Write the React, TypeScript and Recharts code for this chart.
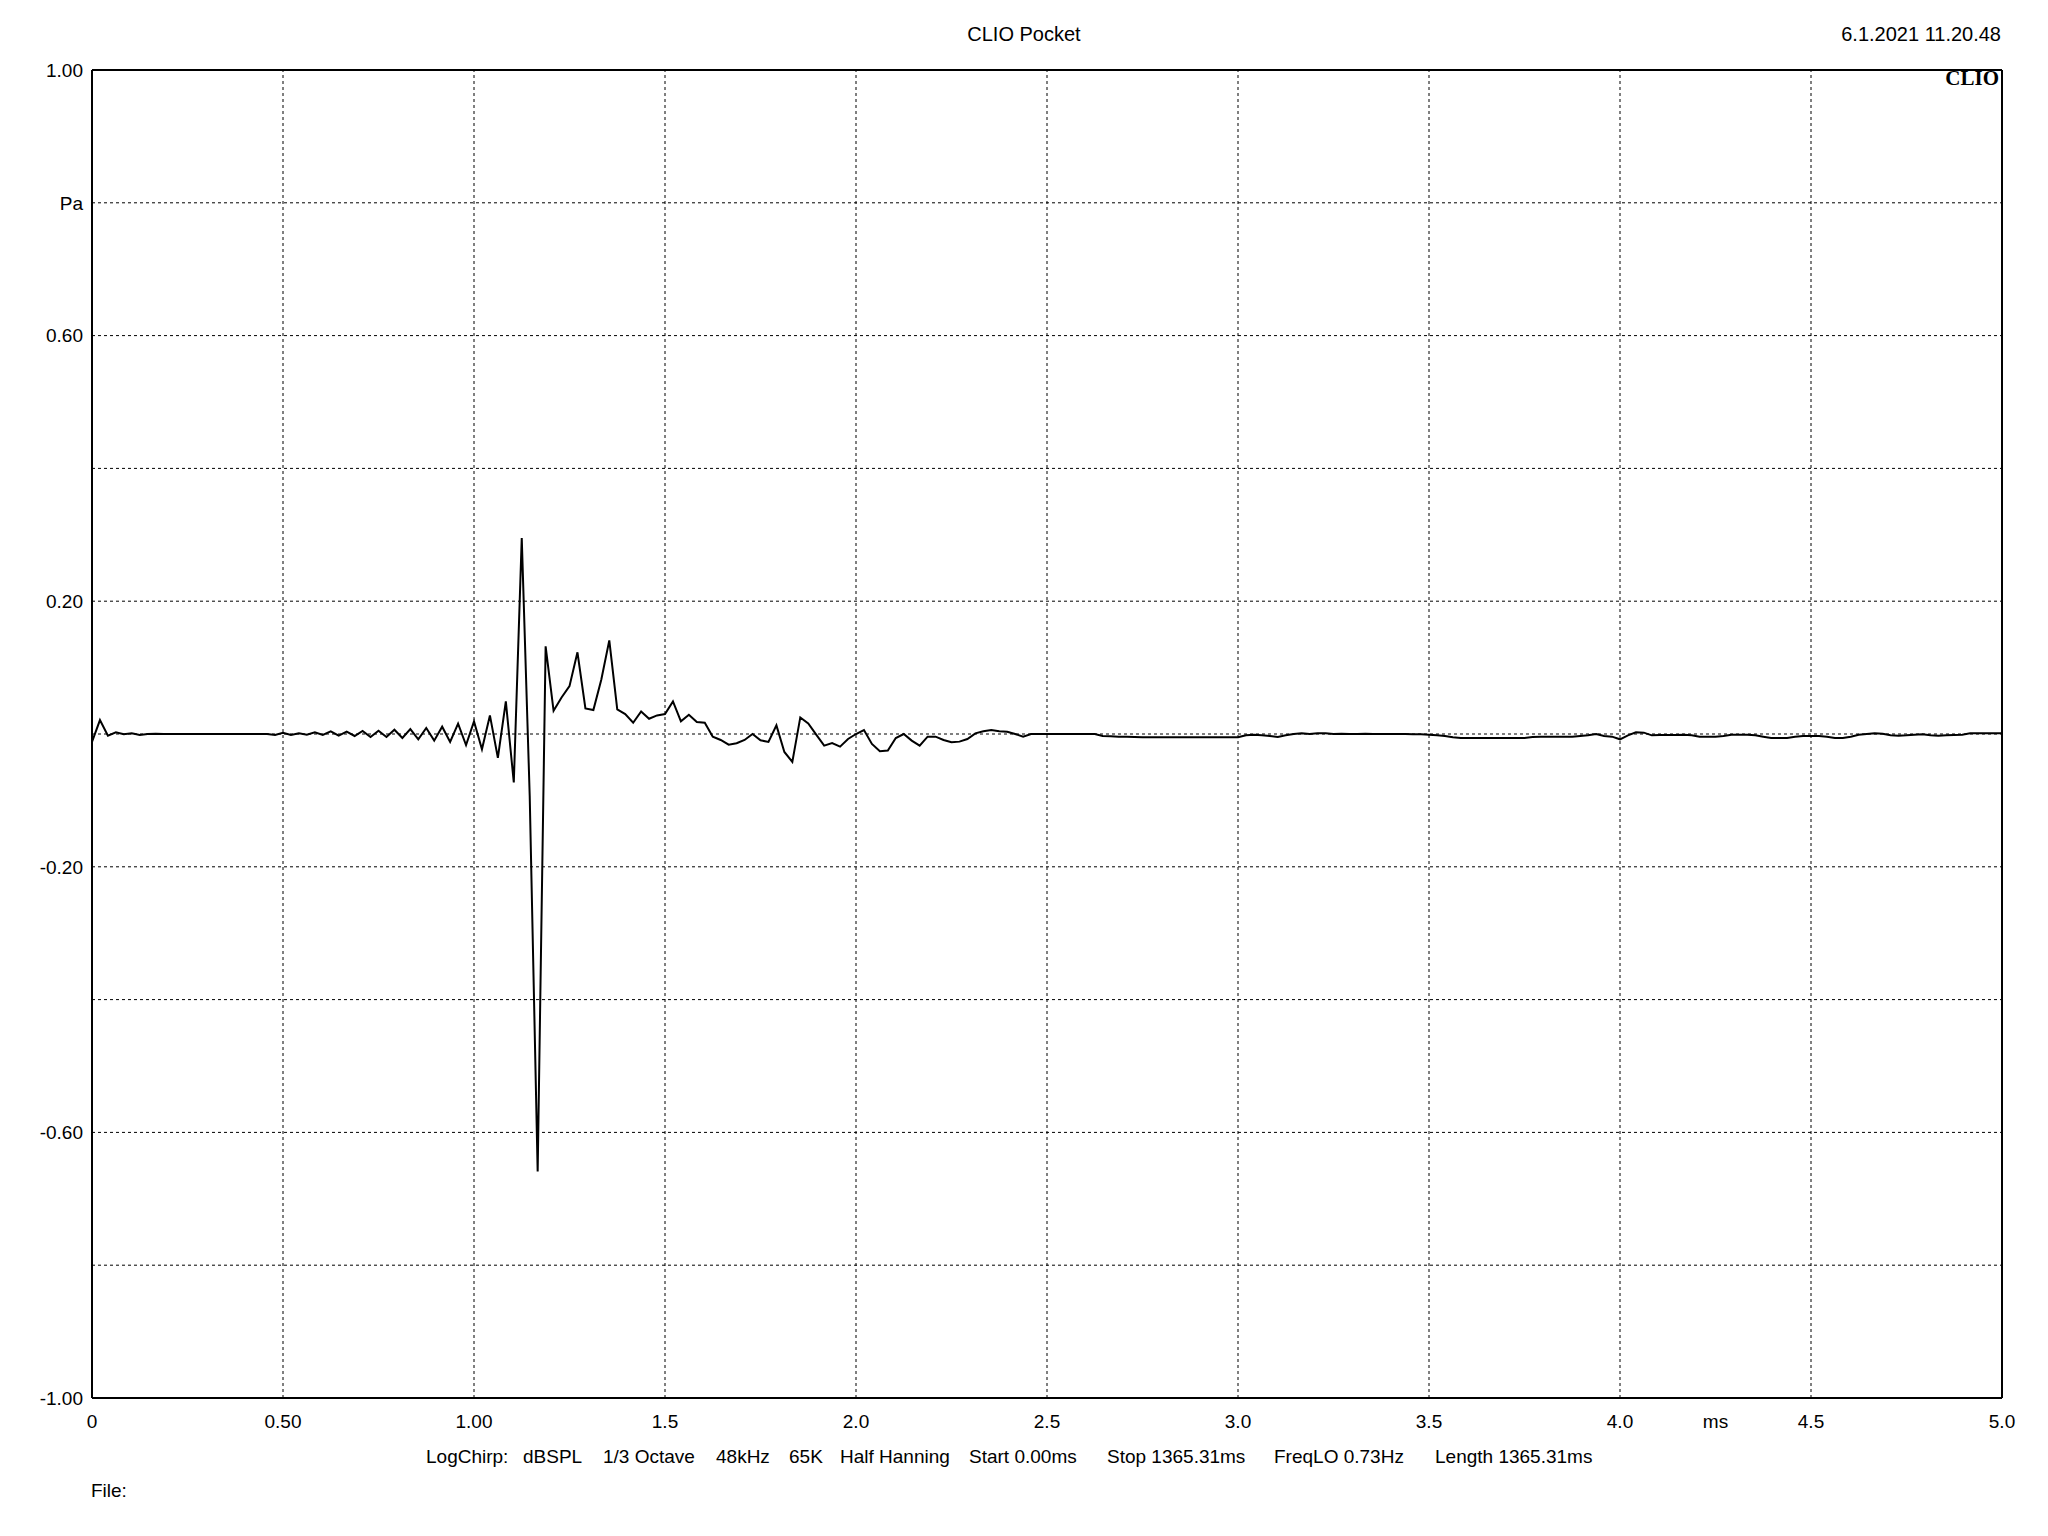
import React from 'react';
import { LineChart, Line, XAxis, YAxis, CartesianGrid, ReferenceLine } from 'recharts';

// impulse response samples, 48 kHz (Pa)
const sampleRateKHz = 48;
const pressure: number[] = [
  -0.012, 0.021, -0.0025, 0.0025, -0.0005, 0.001, -0.0015, 0, 0.0005, 0,
  0, 0, 0, 0, 0, 0, 0, 0, 0, 0,
  0, 0, 0, -0.0015, 0.002, -0.0015, 0.001, -0.001, 0.0025, -0.0015,
  0.004, -0.0025, 0.0035, -0.003, 0.0045, -0.0045, 0.005, -0.0045, 0.0065, -0.006,
  0.0075, -0.008, 0.009, -0.01, 0.011, -0.012, 0.0155, -0.0166, 0.019, -0.023,
  0.028, -0.036, 0.049, -0.073, 0.295, -0.093, -0.659, 0.132, 0.035, 0.055,
  0.072, 0.123, 0.0385, 0.036, 0.082, 0.141, 0.037, 0.03, 0.017, 0.034,
  0.023, 0.028, 0.03, 0.049, 0.019, 0.029, 0.018, 0.017, -0.004, -0.009,
  -0.016, -0.014, -0.009, 0, -0.0095, -0.012, 0.013, -0.027, -0.042, 0.025,
  0.016, -0.001, -0.0176, -0.0136, -0.019, -0.0075, 0, 0.006, -0.015, -0.026,
  -0.025, -0.006, 0, -0.01, -0.0175, -0.004, -0.004, -0.009, -0.0125, -0.0115,
  -0.0075, 0.001, 0.004, 0.006, 0.004, 0.0035, 0, -0.004, 0, 0,
  0, 0, 0, 0, 0, 0, 0, -0.003, -0.0035, -0.004,
  -0.004, -0.0045, -0.005, -0.005, -0.005, -0.005, -0.005, -0.005, -0.005, -0.005,
  -0.005, -0.005, -0.005, -0.005, -0.005, -0.002, -0.001, -0.002, -0.003, -0.0045,
  -0.002, 0, 0.001, 0, 0.001, 0.001, 0, 0.0005, 0, 0,
  0.0005, 0, 0, 0, 0, 0, -0.0005, -0.0005, -0.001, -0.002,
  -0.003, -0.005, -0.006, -0.006, -0.006, -0.006, -0.006, -0.006, -0.006, -0.006,
  -0.006, -0.0045, -0.004, -0.004, -0.004, -0.004, -0.004, -0.003, -0.002, 0,
  -0.003, -0.004, -0.008, -0.002, 0.0025, 0.002, -0.002, -0.0015, -0.0015, -0.0015,
  -0.001, -0.002, -0.004, -0.004, -0.004, -0.003, -0.001, -0.001, -0.001, -0.002,
  -0.004, -0.006, -0.006, -0.006, -0.004, -0.003, -0.003, -0.003, -0.004, -0.006,
  -0.006, -0.004, -0.001, 0, 0.001, 0.0005, -0.002, -0.0025, -0.002, -0.001,
  -0.0005, -0.002, -0.0025, -0.002, -0.0015, -0.001, 0.001, 0.001, 0.001, 0.001,
  0.001,
];

const xTicks = [0, 0.5, 1, 1.5, 2, 2.5, 3, 3.5, 4, 4.25, 4.5, 5];
const xTickLabels = ['0', '0.50', '1.00', '1.5', '2.0', '2.5', '3.0', '3.5', '4.0', 'ms', '4.5', '5.0'];
const xGrid = [0.5, 1, 1.5, 2, 2.5, 3, 3.5, 4, 4.5];
const yTicks = [-1, -0.8, -0.6, -0.4, -0.2, 0, 0.2, 0.4, 0.6, 0.8, 1];
const yTickLabels = ['-1.00', '', '-0.60', '', '-0.20', '', '0.20', '', '0.60', 'Pa', '1.00'];

const title = 'CLIO Pocket';
const stamp = '6.1.2021 11.20.48';
const params = [
  { text: 'LogChirp:', x: 426 },
  { text: 'dBSPL', x: 523 },
  { text: '1/3 Octave', x: 603 },
  { text: '48kHz', x: 716 },
  { text: '65K', x: 789 },
  { text: 'Half Hanning', x: 840 },
  { text: 'Start 0.00ms', x: 969 },
  { text: 'Stop 1365.31ms', x: 1107 },
  { text: 'FreqLO 0.73Hz', x: 1274 },
  { text: 'Length 1365.31ms', x: 1435 },
];

const data = pressure.map((p, i) => ({ t: i / sampleRateKHz, p }));

const font = 'Liberation Sans, Arial, sans-serif';
const tickStyle = { fontFamily: font, fontSize: 19, fill: '#000' };

const App: React.FC = () => {
  return (
    <div style={{ position: 'absolute', left: 0, top: 0, width: 2048, height: 1536, background: '#fff' }}>
      <LineChart width={2048} height={1536} data={data} margin={{ top: 70, right: 46, left: 0, bottom: 0 }}>
        <CartesianGrid vertical={false} stroke="#000" strokeDasharray="3 3" />
        {xGrid.map((x) => (
          <ReferenceLine key={x} x={x} stroke="#000" strokeDasharray="3 3" />
        ))}
        <XAxis
          dataKey="t"
          type="number"
          domain={[0, 5]}
          ticks={xTicks}
          interval={0}
          allowDataOverflow
          height={138}
          tickLine={false}
          tickMargin={11}
          axisLine={{ stroke: '#000', strokeWidth: 2 }}
          tick={tickStyle}
          tickFormatter={(_v: number, i: number) => xTickLabels[i]}
        />
        <YAxis
          type="number"
          domain={[-1, 1]}
          ticks={yTicks}
          interval={0}
          allowDataOverflow
          width={92}
          tickLine={false}
          tickMargin={3}
          axisLine={{ stroke: '#000', strokeWidth: 2 }}
          tick={tickStyle}
          tickFormatter={(_v: number, i: number) => yTickLabels[i]}
        />
        <ReferenceLine y={1} stroke="#000" strokeWidth={2} />
        <ReferenceLine x={5} stroke="#000" strokeWidth={2} />
        <Line
          type="linear"
          dataKey="p"
          stroke="#000"
          strokeWidth={2}
          dot={false}
          isAnimationActive={false}
        />
      </LineChart>
      <svg
        width={2048}
        height={1536}
        style={{ position: 'absolute', left: 0, top: 0, pointerEvents: 'none' }}
        fontFamily={font}
        fontSize={19}
      >
        <text x={1024} y={41} textAnchor="middle" fontSize={20}>{title}</text>
        <text x={2001} y={41} textAnchor="end" fontSize={20}>{stamp}</text>
        <text x={1999} y={85} textAnchor="end" fontFamily="Liberation Serif, Times New Roman, serif" fontWeight="bold" fontSize={21}>
          CLIO
        </text>
        {params.map((p) => (
          <text key={p.text} x={p.x} y={1463}>{p.text}</text>
        ))}
        <text x={91} y={1497}>File:</text>
      </svg>
    </div>
  );
};

export default App;
